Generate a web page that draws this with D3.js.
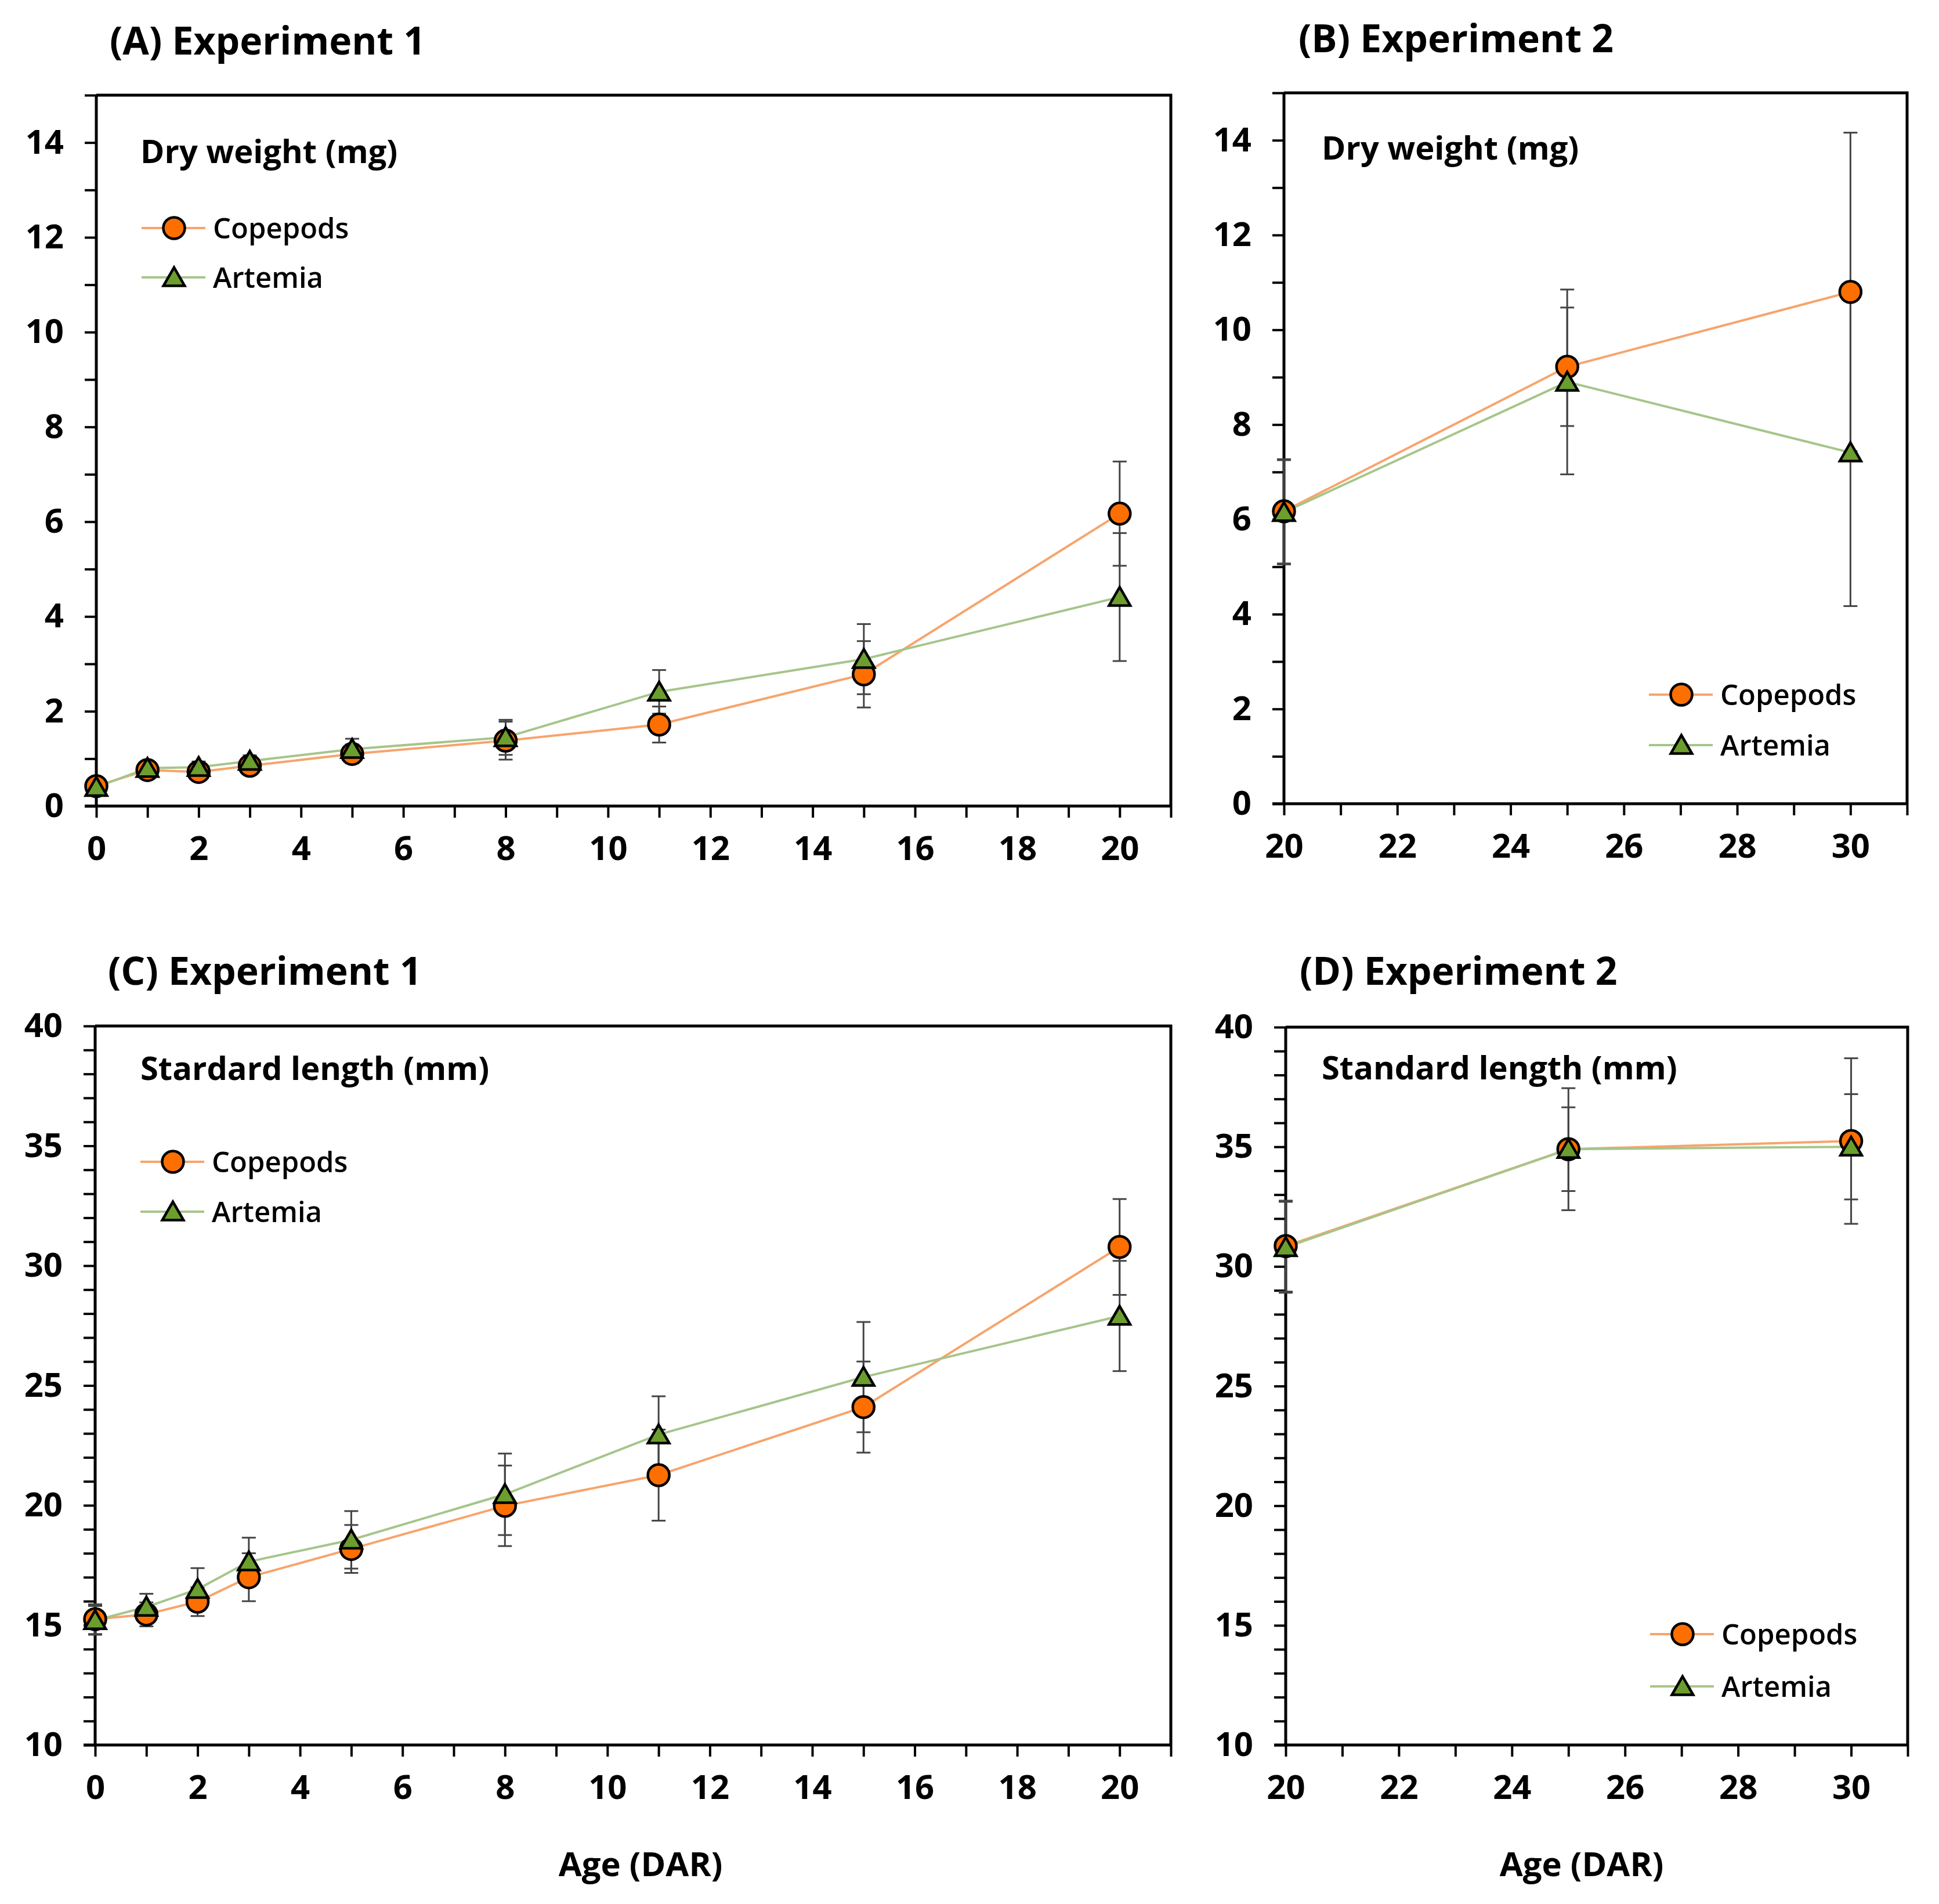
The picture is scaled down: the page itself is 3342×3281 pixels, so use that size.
<!DOCTYPE html>
<html><head><meta charset="utf-8">
<script src="https://cdn.jsdelivr.net/npm/d3@7"></script>
<style>
body{margin:0;background:#fff;}
svg text{font-family:"Open Sans",sans-serif;fill:#000;}
</style>
</head><body>
<svg id="chart" width="3342" height="3281"></svg>
<script>
// ---------------- data ----------------
const daysExp1 = [0, 1, 2, 3, 5, 8, 11, 15, 20];
const daysExp2 = [20, 25, 30];

// Dry weight (mg), experiment 1
const dwCopExp1    = [0.42, 0.76, 0.72, 0.85, 1.10, 1.38, 1.72, 2.78, 6.17];
const dwCopExp1Err = [0.08, 0.10, 0.10, 0.10, 0.20, 0.40, 0.38, 0.70, 1.10];
const dwArtExp1    = [0.40, 0.80, 0.82, 0.95, 1.20, 1.45, 2.41, 3.10, 4.41];
const dwArtExp1Err = [0.08, 0.10, 0.12, 0.12, 0.22, 0.37, 0.46, 0.74, 1.35];

// Dry weight (mg), experiment 2
const dwCopExp2    = [6.17, 9.22, 10.80];
const dwCopExp2Err = [1.10, 1.25, 3.36];
const dwArtExp2    = [6.15, 8.90, 7.41];
const dwArtExp2Err = [1.10, 1.95, 3.24];

// Standard length (mm), experiment 1
const slCopExp1    = [15.25, 15.45, 15.98, 17.00, 18.18, 19.98, 21.26, 24.10, 30.78];
const slCopExp1Err = [0.62, 0.50, 0.60, 1.00, 1.00, 1.68, 1.90, 1.90, 2.00];
const slArtExp1    = [15.20, 15.76, 16.50, 17.65, 18.56, 20.46, 22.95, 25.35, 27.90];
const slArtExp1Err = [0.60, 0.55, 0.88, 1.00, 1.20, 1.70, 1.60, 2.30, 2.30];

// Standard length (mm), experiment 2
const slCopExp2    = [30.85, 34.90, 35.24];
const slCopExp2Err = [1.90, 1.75, 3.46];
const slArtExp2    = [30.80, 34.90, 35.00];
const slArtExp2Err = [1.90, 2.55, 2.20];

// tick labels
const xLabelsExp1 = [0, 2, 4, 6, 8, 10, 12, 14, 16, 18, 20];
const xLabelsExp2 = [20, 22, 24, 26, 28, 30];
const yLabelsDW = [0, 2, 4, 6, 8, 10, 12, 14];
const yLabelsSL = [10, 15, 20, 25, 30, 35, 40];

const seriesNames = ["Copepods", "Artemia"];
const panelTitles = ["(A) Experiment 1", "(B) Experiment 2", "(C) Experiment 1", "(D) Experiment 2"];
const panelSubtitles = ["Dry weight (mg)", "Dry weight (mg)", "Stardard length (mm)", "Standard length (mm)"];
const axisTitle = "Age (DAR)";

// ---------------- style ----------------
const COP_LINE = "#F7A46C", COP_FILL = "#FF6F00";
const ART_LINE = "#A6C58A", ART_FILL = "#6C9E2E";
const ERR_COL = "#444444";

const panels = [
  {title: panelTitles[0], sub: panelSubtitles[0], box: {l: 166, r: 2018, t: 164, b: 1389},
   xDom: [0, 21], yDom: [0, 15], yStep: 1, xLabels: xLabelsExp1, yLabels: yLabelsDW,
   days: daysExp1, cop: dwCopExp1, copErr: dwCopExp1Err, art: dwArtExp1, artErr: dwArtExp1Err,
   titlePos: [189, 94], subPos: [242, 281], leg: {x: 300, y: [393, 478]}, axisLabel: false},
  {title: panelTitles[1], sub: panelSubtitles[1], box: {l: 2213, r: 3287, t: 160, b: 1385},
   xDom: [20, 31], yDom: [0, 15], yStep: 1, xLabels: xLabelsExp2, yLabels: yLabelsDW,
   days: daysExp2, cop: dwCopExp2, copErr: dwCopExp2Err, art: dwArtExp2, artErr: dwArtExp2Err,
   titlePos: [2238, 90], subPos: [2278, 275], leg: {x: 2898, y: [1197, 1284]}, axisLabel: false},
  {title: panelTitles[2], sub: panelSubtitles[2], box: {l: 164, r: 2018, t: 1768, b: 3007},
   xDom: [0, 21], yDom: [10, 40], yStep: 1, xLabels: xLabelsExp1, yLabels: yLabelsSL,
   days: daysExp1, cop: slCopExp1, copErr: slCopExp1Err, art: slArtExp1, artErr: slArtExp1Err,
   titlePos: [186, 1697], subPos: [242, 1861], leg: {x: 298, y: [2002, 2088]}, axisLabel: true, axisLabelX: 1104},
  {title: panelTitles[3], sub: panelSubtitles[3], box: {l: 2216, r: 3288, t: 1770, b: 3007},
   xDom: [20, 31], yDom: [10, 40], yStep: 1, xLabels: xLabelsExp2, yLabels: yLabelsSL,
   days: daysExp2, cop: slCopExp2, copErr: slCopExp2Err, art: slArtExp2, artErr: slArtExp2Err,
   titlePos: [2240, 1697], subPos: [2278, 1860], leg: {x: 2900, y: [2816, 2906]}, axisLabel: true, axisLabelX: 2726}
];

const svg = d3.select("#chart");
svg.append("rect").attr("width", 3342).attr("height", 3281).attr("fill", "#fff");

const triPath = d3.symbol().type(d3.symbolTriangle).size(580)();
const CIRCLE_R = 18.5;

function drawMarker(g, kind, x, y) {
  if (kind === 0) {
    g.append("circle").attr("cx", x).attr("cy", y).attr("r", CIRCLE_R)
      .attr("fill", COP_FILL).attr("stroke", "#000").attr("stroke-width", 4.5);
  } else {
    g.append("path").attr("d", triPath)
      .attr("transform", `translate(${x},${y + 4})`)
      .attr("fill", ART_FILL).attr("stroke", "#000").attr("stroke-width", 4.5)
      .attr("stroke-linejoin", "miter");
  }
}

panels.forEach(p => {
  const g = svg.append("g");
  const x = d3.scaleLinear().domain(p.xDom).range([p.box.l, p.box.r]);
  const y = d3.scaleLinear().domain(p.yDom).range([p.box.b, p.box.t]);

  // frame (top & right)
  g.append("path")
    .attr("d", `M${p.box.l},${p.box.t}H${p.box.r}V${p.box.b}`)
    .attr("fill", "none").attr("stroke", "#000").attr("stroke-width", 5);

  // x axis
  const xTicks = d3.range(p.xDom[0], p.xDom[1] + 1, 1);
  const xAxis = d3.axisBottom(x).tickValues(xTicks).tickSize(20).tickSizeOuter(0).tickPadding(32)
    .tickFormat(d => p.xLabels.includes(d) ? d : "");
  const gx = g.append("g").attr("transform", `translate(0,${p.box.b})`).call(xAxis);
  // y axis
  const yTicks = d3.range(p.yDom[0], p.yDom[1] + 1, p.yStep);
  const yAxis = d3.axisLeft(y).tickValues(yTicks).tickSize(20).tickSizeOuter(0).tickPadding(36)
    .tickFormat(d => p.yLabels.includes(d) ? d : "");
  const gy = g.append("g").attr("transform", `translate(${p.box.l},0)`).call(yAxis);

  [gx, gy].forEach(ax => {
    ax.select(".domain").attr("stroke", "#000").attr("stroke-width", 5);
    ax.selectAll(".tick line").attr("stroke", "#000").attr("stroke-width", 4);
    ax.selectAll(".tick text").attr("font-size", 58).attr("font-weight", 700)
      .attr("font-family", "'Open Sans', sans-serif").attr("fill", "#000");
  });
  gx.selectAll(".tick text").attr("dy", "0.71em");
  gx.select(".domain").attr("d", `M${p.box.l - 20},0H${p.box.r}`);
  gy.select(".domain").attr("d", `M0,${p.box.t}V${p.box.b}`);

  // title & subtitle
  g.append("text").attr("x", p.titlePos[0]).attr("y", p.titlePos[1])
    .attr("font-size", 66).attr("font-weight", 700).text(p.title);
  g.append("text").attr("x", p.subPos[0]).attr("y", p.subPos[1])
    .attr("font-size", 56).attr("font-weight", 700).text(p.sub);

  if (p.axisLabel) {
    g.append("text").attr("x", p.axisLabelX).attr("y", p.box.b + 226)
      .attr("text-anchor", "middle").attr("font-size", 58).attr("font-weight", 700).text(axisTitle);
  }

  const series = [
    {vals: p.cop, err: p.copErr, line: COP_LINE, kind: 0},
    {vals: p.art, err: p.artErr, line: ART_LINE, kind: 1}
  ];

  // error bars
  const eg = g.append("g").attr("stroke", ERR_COL).attr("stroke-width", 3).attr("fill", "none");
  series.forEach(s => {
    p.days.forEach((d, i) => {
      const cx = x(d), y0 = y(s.vals[i] - s.err[i]), y1 = y(s.vals[i] + s.err[i]);
      eg.append("line").attr("x1", cx).attr("x2", cx).attr("y1", y0).attr("y2", y1);
      eg.append("line").attr("x1", cx - 12).attr("x2", cx + 12).attr("y1", y0).attr("y2", y0);
      eg.append("line").attr("x1", cx - 12).attr("x2", cx + 12).attr("y1", y1).attr("y2", y1);
    });
  });

  // lines
  series.forEach(s => {
    const line = d3.line().x((d, i) => x(p.days[i])).y(d => y(d));
    g.append("path").attr("d", line(s.vals)).attr("fill", "none")
      .attr("stroke", s.line).attr("stroke-width", 4);
  });

  // markers
  series.forEach(s => {
    s.vals.forEach((v, i) => drawMarker(g, s.kind, x(p.days[i]), y(v)));
  });

  // legend
  series.forEach((s, k) => {
    const ly = p.leg.y[k];
    g.append("line").attr("x1", p.leg.x - 56).attr("x2", p.leg.x + 54).attr("y1", ly).attr("y2", ly)
      .attr("stroke", s.line).attr("stroke-width", 4);
    drawMarker(g, s.kind, p.leg.x, ly);
    g.append("text").attr("x", p.leg.x + 67).attr("y", ly + 18)
      .attr("font-size", 49).attr("font-weight", 600).text(seriesNames[k]);
  });
});
</script>
</body></html>
